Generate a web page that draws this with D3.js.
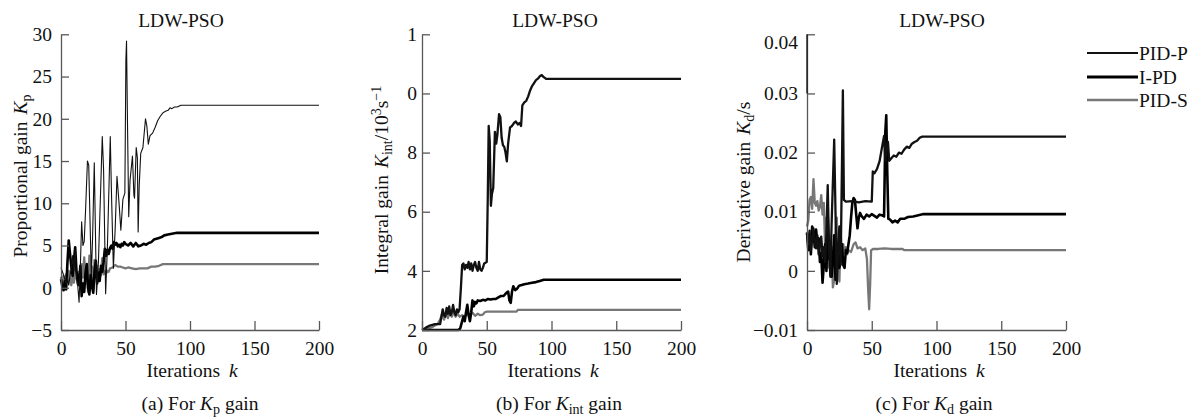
<!DOCTYPE html>
<html><head><meta charset="utf-8">
<script src="https://cdn.jsdelivr.net/npm/d3@7"></script>
<style>
html,body{margin:0;padding:0;background:#fff;}
svg text{font-family:"Liberation Serif","Times New Roman",serif;fill:#111;}
</style></head>
<body><svg id="chart" width="1202" height="418"></svg>
<script>
// ---------- data ----------
const seriesNames = ["PID-P", "I-PD", "PID-S"];
const iterTicks = [0, 50, 100, 150, 200];
const kpTicks = [-5, 0, 5, 10, 15, 20, 25, 30];
const kpTickLabels = ["\u22125", "0", "5", "10", "15", "20", "25", "30"];
const kiTicks = [2, 4, 6, 8, 10, 12];
const kiTickLabels = ["2", "4", "6", "8", "0", "1"];
const kdTicks = [-0.01, 0, 0.01, 0.02, 0.03, 0.04];
const kdTickLabels = ["\u22120.01", "0", "0.01", "0.02", "0.03", "0.04"];

// panel (a) Kp : [iteration, value]
const kpPIDP = [[0,2.4],[2,1.5],[4,0.5],[5,1.2],[6,0.3],[8,2.5],[9,3.8],[10,2.0],[11,4.5],[12,1.0],[13,0.2],[14,-1.7],[15,2.5],[16,7.8],[17,5.0],[18,5.5],[19,9.0],[20.5,15.0],[21.5,14.5],[23.5,1.5],[24.5,6.0],[25.8,14.8],[27.5,-0.8],[29,3.0],[30,8.0],[32,17.9],[33,14.0],[34.6,-0.7],[36,5.0],[38.2,17.9],[39,12.0],[40.6,2.3],[42,7.0],[43.4,13.2],[45,10.0],[46.4,6.8],[48,10.5],[49.5,11.2],[50.3,27.0],[50.8,29.2],[51.5,20.0],[52.5,8.4],[53.5,12.7],[55.4,15.6],[56.5,11.0],[57,10.6],[58.3,16.6],[59.2,15.4],[59.8,6.6],[60.6,12.0],[61.8,15.9],[63.5,16.6],[65.5,20.0],[66.5,19.2],[67.7,17.0],[69,18.0],[71,18.3],[73,19.0],[75,19.8],[77,20.3],[79,20.7],[81,20.9],[83,21.0],[84.5,21.3],[86,21.2],[88,21.4],[90,21.4],[93,21.6],[96,21.6],[200,21.6]];
const kpIPD = [[0,1.0],[1,0.2],[2,-0.3],[3,0.8],[4,-0.2],[5,3.0],[6,5.6],[7,4.0],[8,2.5],[9,1.4],[10,3.2],[11,4.8],[12,2.0],[13,1.1],[14,0.3],[15,2.6],[16,-1.0],[17,0.5],[18,-0.5],[19,1.8],[20,2.8],[21,0.0],[22,-0.8],[23,1.5],[24,0.2],[25,-0.6],[26,2.0],[27,3.2],[28,0.5],[29,1.8],[30,0.8],[31,2.6],[32,1.9],[33,3.0],[34,4.6],[35,3.8],[36,4.5],[37,4.0],[38,4.7],[39,5.0],[40,4.6],[41,5.4],[42,5.1],[43,5.3],[44,4.9],[45,5.1],[46,4.8],[47,5.2],[48,5.0],[49,5.4],[50,5.2],[52,5.0],[54,5.3],[56,4.9],[58,5.3],[60,4.9],[62,5.0],[64,5.2],[66,5.1],[68,5.3],[70,5.4],[72,5.7],[74,5.8],[76,5.9],[78,6.0],[80,6.2],[83,6.3],[86,6.4],[90,6.5],[95,6.5],[200,6.5]];
const kpPIDS = [[0,1.3],[1,0.6],[2,1.4],[3,0.4],[4,1.6],[5,0.7],[6,2.0],[7,1.0],[8,0.3],[9,1.5],[10,0.6],[11,2.4],[12,1.2],[13,0.4],[14,1.9],[15,0.8],[16,2.8],[17,1.2],[18,3.6],[19,0.5],[20,2.0],[21,-0.5],[22,3.8],[23,1.0],[24,2.5],[25,-0.3],[26,3.3],[27,1.2],[28,2.6],[29,0.8],[30,2.2],[31,1.5],[32,3.5],[33,1.6],[34,2.0],[35,1.7],[36,2.0],[37,1.9],[38,2.3],[40,2.4],[42,2.7],[44,2.5],[46,2.5],[48,2.4],[50,2.3],[52,2.4],[55,2.3],[58,2.2],[61,2.3],[64,2.3],[67,2.3],[70,2.5],[73,2.5],[76,2.6],[79,2.8],[82,2.8],[200,2.8]];

// panel (b) Kint
const kiPIDP = [[0,2.0],[3,2.08],[6,2.15],[10,2.2],[14,2.2],[15,2.45],[16,2.7],[17,2.5],[18,2.45],[19,2.75],[20,2.55],[21,2.8],[22,2.5],[23,2.6],[24,2.85],[25,2.6],[26,2.5],[27,2.7],[28,2.6],[29,2.7],[30,3.4],[31,4.2],[32,4.25],[33,4.05],[34,4.2],[35,4.1],[36,4.3],[37,4.05],[38,4.25],[39,4.0],[40,4.2],[41,4.3],[42,4.1],[43,4.0],[44,4.3],[45,4.05],[46,4.0],[47,4.1],[48,4.25],[50,4.3],[50.8,6.5],[51.5,8.9],[52.3,8.4],[53.2,6.2],[54,6.6],[55,6.8],[56.3,8.7],[57.3,8.3],[58.2,8.6],[59.5,9.3],[60.5,9.2],[61.5,8.5],[62.5,8.25],[63.5,8.2],[64.5,8.0],[65.5,7.7],[66.5,8.3],[68,8.85],[69.5,8.9],[71,9.0],[72.5,9.05],[74,8.95],[75.5,9.0],[76.5,8.9],[77.5,9.6],[79,9.7],[80.5,9.75],[82,9.9],[83.5,10.1],[85,10.25],[86.5,10.35],[88,10.45],[89.5,10.5],[91,10.58],[92.5,10.62],[94,10.55],[96,10.49],[200,10.49]];
const kiIPD = [[0,2.0],[10,2.0],[20,2.0],[28,2.0],[29.5,2.05],[31,2.3],[32,2.45],[33,2.3],[34,2.6],[35,2.85],[36,2.5],[37,2.3],[38,2.6],[39,3.0],[40,2.8],[41,2.95],[42,2.9],[43,3.0],[45,2.98],[47,3.02],[49,3.0],[51,3.05],[53,3.03],[55,3.05],[57,3.05],[59,3.1],[61,3.15],[63,3.15],[65,3.25],[66.5,3.3],[67.5,3.0],[68.5,2.92],[69.5,3.3],[70.5,3.48],[72,3.35],[73.5,3.4],[75,3.5],[77,3.52],[79,3.55],[82,3.57],[85,3.6],[88,3.62],[91,3.66],[94,3.7],[200,3.7]];
const kiPIDS = [[0,2.0],[4,2.05],[8,2.1],[12,2.2],[14,2.35],[15.5,2.55],[17,2.35],[18.5,2.6],[20,2.4],[21.5,2.62],[23,2.45],[24.5,2.6],[26,2.45],[27.5,2.55],[29,2.45],[31,2.5],[33,2.45],[35,2.55],[37,2.5],[39,2.58],[41,2.48],[43,2.55],[45,2.5],[47,2.52],[48.5,2.6],[50,2.62],[73,2.62],[74,2.68],[200,2.68]];

// panel (c) Kd
const kdPIDP = [[0,0.0062],[1,0.0045],[2,0.0068],[3,0.0035],[4,0.0055],[5,0.0072],[6,0.005],[7,0.0038],[8,0.006],[9,0.0028],[10,0.0045],[11,0.0058],[12,0.0025],[13,0.004],[14,0.0015],[15,0.0065],[16,0.0145],[17,0.004],[18,-0.001],[19,0.008],[20,0.015],[21,0.0222],[22,0.01],[23,-0.0022],[24,0.004],[25,0.0075],[26,0.001],[27,0.018],[27.7,0.0305],[28.5,0.012],[30,0.0117],[35,0.0118],[40,0.0116],[45,0.0118],[50,0.0117],[50.8,0.0168],[52,0.0165],[54,0.0172],[56,0.0185],[58,0.021],[59.5,0.0228],[60.5,0.0186],[61.5,0.021],[62.5,0.0218],[63.5,0.0186],[65,0.019],[67,0.0195],[69,0.0193],[71,0.02],[73,0.0198],[75,0.0205],[77,0.021],[79,0.0208],[81,0.0215],[83,0.0218],[85,0.022],[87,0.0225],[89,0.0227],[200,0.0227]];
const kdIPD = [[0,0.0065],[1,0.0035],[2,0.006],[3,0.0028],[4,0.0075],[5,0.0065],[6,0.004],[7,0.007],[8,0.0045],[9,0.0055],[10,0.0015],[11,0.003],[12,-0.002],[13,0.001],[14,0.0045],[15,0.0],[16,0.009],[17,0.002],[18,0.0045],[19,-0.001],[20,0.002],[21,0.006],[22,-0.0015],[23,0.0],[24,0.003],[25,0.0005],[26,0.002],[27,0.0045],[28,0.001],[29,0.0005],[30,0.0035],[31,0.003],[32,0.0045],[33,0.006],[34,0.009],[35,0.0115],[36,0.0123],[37,0.012],[38,0.0095],[39,0.0072],[40,0.009],[41,0.0098],[42,0.0093],[44,0.0088],[46,0.0095],[48,0.0092],[50,0.0096],[52,0.0093],[54,0.009],[56,0.0095],[58,0.0094],[59.5,0.0092],[60.5,0.0235],[61.2,0.0263],[62,0.0165],[62.8,0.0088],[64,0.0087],[66,0.0082],[68,0.0085],[70,0.0082],[72,0.0088],[75,0.0088],[78,0.0091],[82,0.0092],[86,0.0094],[90,0.0096],[200,0.0096]];
const kdPIDS = [[0,0.0075],[1,0.0085],[2,0.012],[3,0.0125],[4,0.0105],[5,0.0155],[6,0.0115],[7,0.011],[8,0.0118],[9,0.0102],[10,0.0108],[11,0.0128],[12,0.0095],[13,0.0115],[14,0.004],[15,0.009],[16,0.0005],[17,0.006],[18,-0.0005],[19,0.004],[20,-0.0028],[21,-0.0015],[22,0.006],[23,0.009],[24,0.0005],[25,-0.0018],[26,0.0065],[27,0.0025],[28,0.0045],[29,0.003],[30,0.004],[31,0.0028],[32,0.0035],[34,0.0032],[36,0.0045],[37.5,0.0048],[39,0.0038],[41,0.004],[43,0.0035],[45,0.0038],[46.3,0.002],[47.2,-0.003],[48,-0.0065],[48.8,-0.002],[49.5,0.0035],[51,0.0037],[55,0.0037],[60,0.0038],[65,0.0037],[70,0.0037],[74,0.0037],[75,0.0035],[200,0.0035]];

// ---------- layout / style ----------
const FS = 19.5;
const axisColor = "#585858";
const seriesColor = ["#111", "#000", "#777"];
const panelTop = 34.3, panelBottom = 330;

const panels = [
  {x0: 61, x1: 319, domain: [-5, 30], ticks: kpTicks, labels: kpTickLabels, ypad: 9,
   data: [kpPIDP, kpIPD, kpPIDS], widths: [1.1, 2.6, 2.3],
   ylabelX: 20, ylabelY: 176, ylab: "Proportional gain", sub: "p",
   titleX: 181, xlabX: 192, capX: 200, capSub: "p", capLetter: "(a)"},
  {x0: 422, x1: 681, domain: [2, 12], ticks: kiTicks, labels: kiTickLabels, ypad: 5,
   data: [kiPIDP, kiIPD, kiPIDS], widths: [2.3, 2.6, 2.3],
   ylabelX: 381, ylabelY: 180, ylab: "Integral gain", sub: "int", sup3: true,
   titleX: 555, xlabX: 553, capX: 559, capSub: "int", capLetter: "(b)"},
  {x0: 807, x1: 1066, domain: [-0.01, 0.04], ticks: kdTicks, labels: kdTickLabels, ypad: 9,
   data: [kdPIDP, kdIPD, kdPIDS], widths: [2.3, 2.6, 2.3],
   ylabelX: 743, ylabelY: 182, ylab: "Derivative gain", sub: "d", tail: "/s",
   titleX: 942, xlabX: 939, capX: 934, capSub: "d", capLetter: "(c)"}
];

const svg = d3.select("#chart");

panels.forEach((p, pi) => {
  const x = d3.scaleLinear().domain([0, 200]).range([p.x0, p.x1]);
  const y = d3.scaleLinear().domain(p.domain).range([panelBottom, panelTop]);
  const g = svg.append("g");

  // lines
  const line = d3.line().x(d => x(d[0])).y(d => y(d[1]));
  [2, 1, 0].forEach(si => {
    g.append("path").datum(p.data[si])
      .attr("d", line).attr("fill", "none")
      .attr("stroke", seriesColor[si]).attr("stroke-width", p.widths[si])
      .attr("stroke-linejoin", "round");
  });

  // axes
  const yAxis = d3.axisLeft(y).tickValues(p.ticks).tickSizeInner(-8).tickSizeOuter(0)
    .tickPadding(p.ypad).tickFormat((d, i) => p.labels[i]);
  const ya = g.append("g").attr("transform", `translate(${p.x0},0)`).call(yAxis);
  const xAxis = d3.axisBottom(x).tickValues(iterTicks).tickSizeInner(-9).tickSizeOuter(0)
    .tickPadding(11).tickFormat(d3.format("d"));
  const xa = g.append("g").attr("transform", `translate(0,${panelBottom})`).call(xAxis);
  [ya, xa].forEach(a => {
    a.select(".domain").attr("stroke", axisColor).attr("stroke-width", 1.3);
    a.selectAll(".tick line").attr("stroke", axisColor).attr("stroke-width", 1.3);
    a.selectAll(".tick text").attr("font-size", FS).attr("font-family", "Liberation Serif").attr("fill", "#111");
  });
  if (pi === 2) {
    // top label sits a little below its tick; top axis segment is black in the original
    ya.selectAll(".tick text").filter(d => d === p.ticks[p.ticks.length - 1]).attr("dy", "0.75em");
    g.append("line").attr("x1", p.x0).attr("x2", p.x0)
      .attr("y1", y(p.ticks[p.ticks.length - 1])).attr("y2", y(p.ticks[p.ticks.length - 2]))
      .attr("stroke", "#111").attr("stroke-width", 1.3);
  }

  // title
  g.append("text").attr("x", p.titleX).attr("y", 27).attr("text-anchor", "middle")
    .attr("font-size", FS).text("LDW-PSO");
  // x label
  const xl = g.append("text").attr("x", p.xlabX).attr("y", 377).attr("text-anchor", "middle").attr("font-size", FS);
  xl.append("tspan").text("Iterations ");
  xl.append("tspan").attr("font-style", "italic").attr("dx", 4).text("k");
  // caption
  const cap = g.append("text").attr("x", p.capX).attr("y", 410).attr("text-anchor", "middle").attr("font-size", FS);
  cap.append("tspan").text(p.capLetter + " For ");
  cap.append("tspan").attr("font-style", "italic").text("K");
  cap.append("tspan").attr("font-size", FS * 0.72).attr("dy", 4).text(p.capSub);
  cap.append("tspan").attr("dy", -4).text(" gain");

  // y label
  const yl = g.append("text").attr("transform", `translate(${p.ylabelX},${p.ylabelY}) rotate(-90)`)
    .attr("text-anchor", "middle").attr("dy", "0.35em").attr("font-size", FS);
  yl.append("tspan").text(p.ylab);
  yl.append("tspan").attr("font-style", "italic").attr("dx", 7).text("K");
  yl.append("tspan").attr("font-size", FS * 0.72).attr("dy", 4).text(p.sub);
  if (p.sup3) {
    yl.append("tspan").attr("dy", -4).text("/10");
    yl.append("tspan").attr("font-size", FS * 0.72).attr("dy", -7).text("3");
    yl.append("tspan").attr("dy", 7).text("s");
    yl.append("tspan").attr("font-size", FS * 0.72).attr("dy", -7).text("\u22121");
  } else {
    yl.append("tspan").attr("dy", -4).text(p.tail);
  }
});

// legend
const legY = [53, 77, 100];
const legG = svg.append("g");
seriesNames.forEach((name, i) => {
  legG.append("line").attr("x1", 1087).attr("x2", 1138).attr("y1", legY[i]).attr("y2", legY[i])
    .attr("stroke", seriesColor[i]).attr("stroke-width", i === 0 ? 1.8 : (i === 1 ? 2.8 : 2.4));
  legG.append("text").attr("x", 1139).attr("y", legY[i]).attr("dy", "0.35em")
    .attr("font-size", FS).text(name);
});
</script></body></html>
